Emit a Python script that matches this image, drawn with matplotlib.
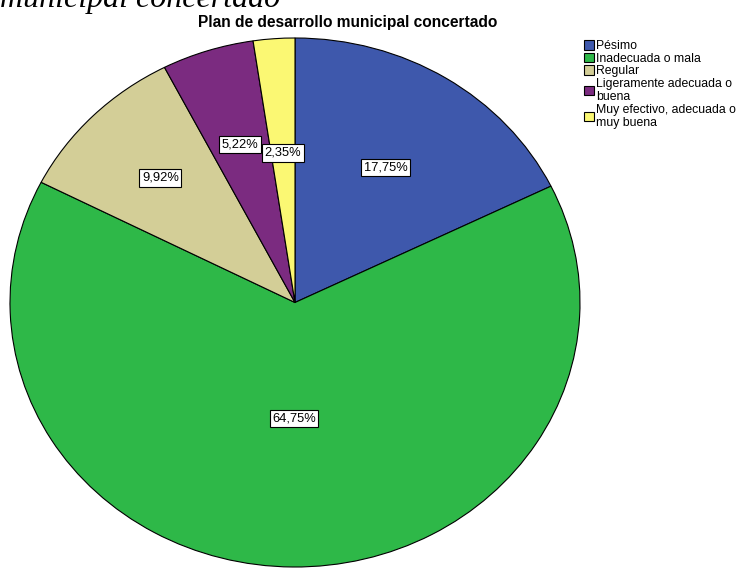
import numpy as np
import matplotlib.pyplot as plt

# Data
categories = ["Pésimo", "Inadecuada o mala", "Regular",
              "Ligeramente adecuada o\nbuena",
              "Muy efectivo, adecuada o\nmuy buena"]
percentages = [17.75, 64.75, 9.92, 5.22, 2.35]
colors = ["#3E58AC", "#2EB848", "#D3CE97", "#7B2B80", "#FBF873"]

# distance of each percentage label from the centre (fraction of radius)
label_dist = [0.60, 0.44, 0.667, 0.626, 0.567]

fig = plt.figure(figsize=(7.54, 5.68), dpi=100)
plt.rcParams['font.family'] = ['Liberation Sans', 'DejaVu Sans']

# Pie axes (slightly elliptical like the original)
ax = fig.add_axes([10 / 754, 1 / 568, 570 / 754, 529 / 568])
wedges, _ = ax.pie(percentages, colors=colors, startangle=90, counterclock=False,
                   wedgeprops=dict(edgecolor="black", linewidth=0.8))
ax.set_aspect("auto")
ax.set_xlim(-1, 1)
ax.set_ylim(-1, 1)
ax.axis("off")

# Percentage labels
for w, p, d in zip(wedges, percentages, label_dist):
    ang = np.deg2rad((w.theta1 + w.theta2) / 2)
    ax.text(d * np.cos(ang), d * np.sin(ang), f"{p:.2f}%".replace(".", ","),
            ha="center", va="center", fontsize=9.3,
            bbox=dict(boxstyle="square,pad=0.2", facecolor="white",
                      edgecolor="black", linewidth=0.8))

# Legend
leg = fig.legend(wedges, categories, loc="upper left",
                 bbox_to_anchor=(578 / 754, 1 - 34 / 568),
                 frameon=False, fontsize=8.8, handlelength=0.8, handleheight=0.8,
                 handletextpad=0.2, labelspacing=0.05, borderpad=0)
for t in leg.get_texts():
    t.set_linespacing(1.12)

# Title
fig.text(348 / 754, 1 - 22 / 568, "Plan de desarrollo municipal concertado",
         ha="center", va="center", fontsize=11.2, fontweight="bold")

# Cut-off caption text at the very top
fig.text(0, 1 - 7 / 568, "municipal concertado", ha="left", va="baseline",
         fontsize=23, style="italic", family="Liberation Serif")

plt.savefig("out.png", dpi=100)
